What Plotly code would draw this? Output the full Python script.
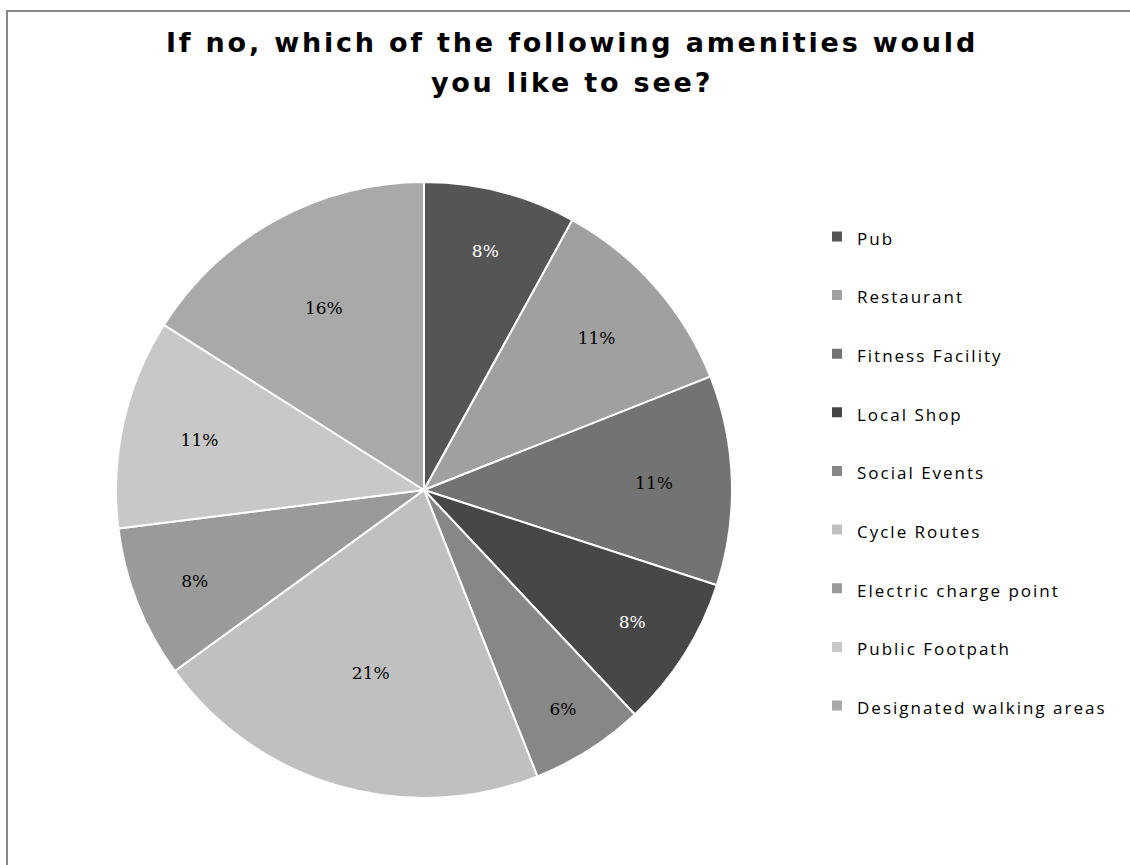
import plotly.graph_objects as go

# Survey responses: preferred amenities (share of respondents, %)
categories = [
    "Pub",
    "Restaurant",
    "Fitness Facility",
    "Local Shop",
    "Social Events",
    "Cycle Routes",
    "Electric charge point",
    "Public Footpath",
    "Designated walking areas",
]
shares = [8, 11, 11, 8, 6, 21, 8, 11, 16]

slice_colors = ["#555555", "#a0a0a0", "#737373", "#474747", "#878787",
                "#c0c0c0", "#9a9a9a", "#c8c8c8", "#a9a9a9"]
label_colors = ["#ffffff", "#000000", "#000000", "#ffffff", "#000000",
                "#000000", "#000000", "#000000", "#000000"]

title_lines = ["If no, which of the following amenities would", "you like to see?"]

# legend entries: visible name plus a blank spacer line for roomy rows
legend_names = ["<span style='font-size:17px;letter-spacing:2px'>%s</span><br> " % c
                for c in categories]

# title: larger base size sets the line pitch, inner span sets glyph size
title_html = "<br>".join(
    "<span style='font-size:27px;letter-spacing:2.8px'><b>%s</b></span>" % t
    for t in title_lines)

W, H = 1130, 865
cx, cy, d = 424, 490, 616

fig = go.Figure(go.Pie(
    labels=legend_names,
    values=shares,
    sort=False,
    direction="clockwise",
    rotation=0,
    marker=dict(colors=slice_colors, line=dict(color="#ffffff", width=2)),
    textinfo="percent",
    textposition="inside",
    insidetextorientation="horizontal",
    textfont=dict(family="DejaVu Serif", size=17, color=label_colors),
    hoverinfo="percent",
    domain=dict(x=[(cx - d / 2) / W, (cx + d / 2) / W],
                y=[(H - cy - d / 2) / H, (H - cy + d / 2) / H]),
))

fig.update_layout(
    width=W, height=H,
    margin=dict(l=0, r=0, t=0, b=0),
    paper_bgcolor="#ffffff",
    plot_bgcolor="#ffffff",
    title=dict(text=title_html,
               font=dict(family="DejaVu Sans", size=31, color="#000000"),
               x=572 / W, xanchor="center", y=1 - 52 / H, yanchor="top"),
    legend=dict(x=817 / W, xanchor="left", y=1 - 216 / H, yanchor="top",
                valign="top",
                font=dict(family="Open Sans", size=21.4, color="#000000"),
                bgcolor="rgba(0,0,0,0)"),
    shapes=[dict(type="rect", xref="paper", yref="paper",
                 x0=7 / W, x1=1.02, y0=-0.02, y1=1 - 11 / H,
                 line=dict(color="#888888", width=2))],
)

fig.write_html("out.html")
